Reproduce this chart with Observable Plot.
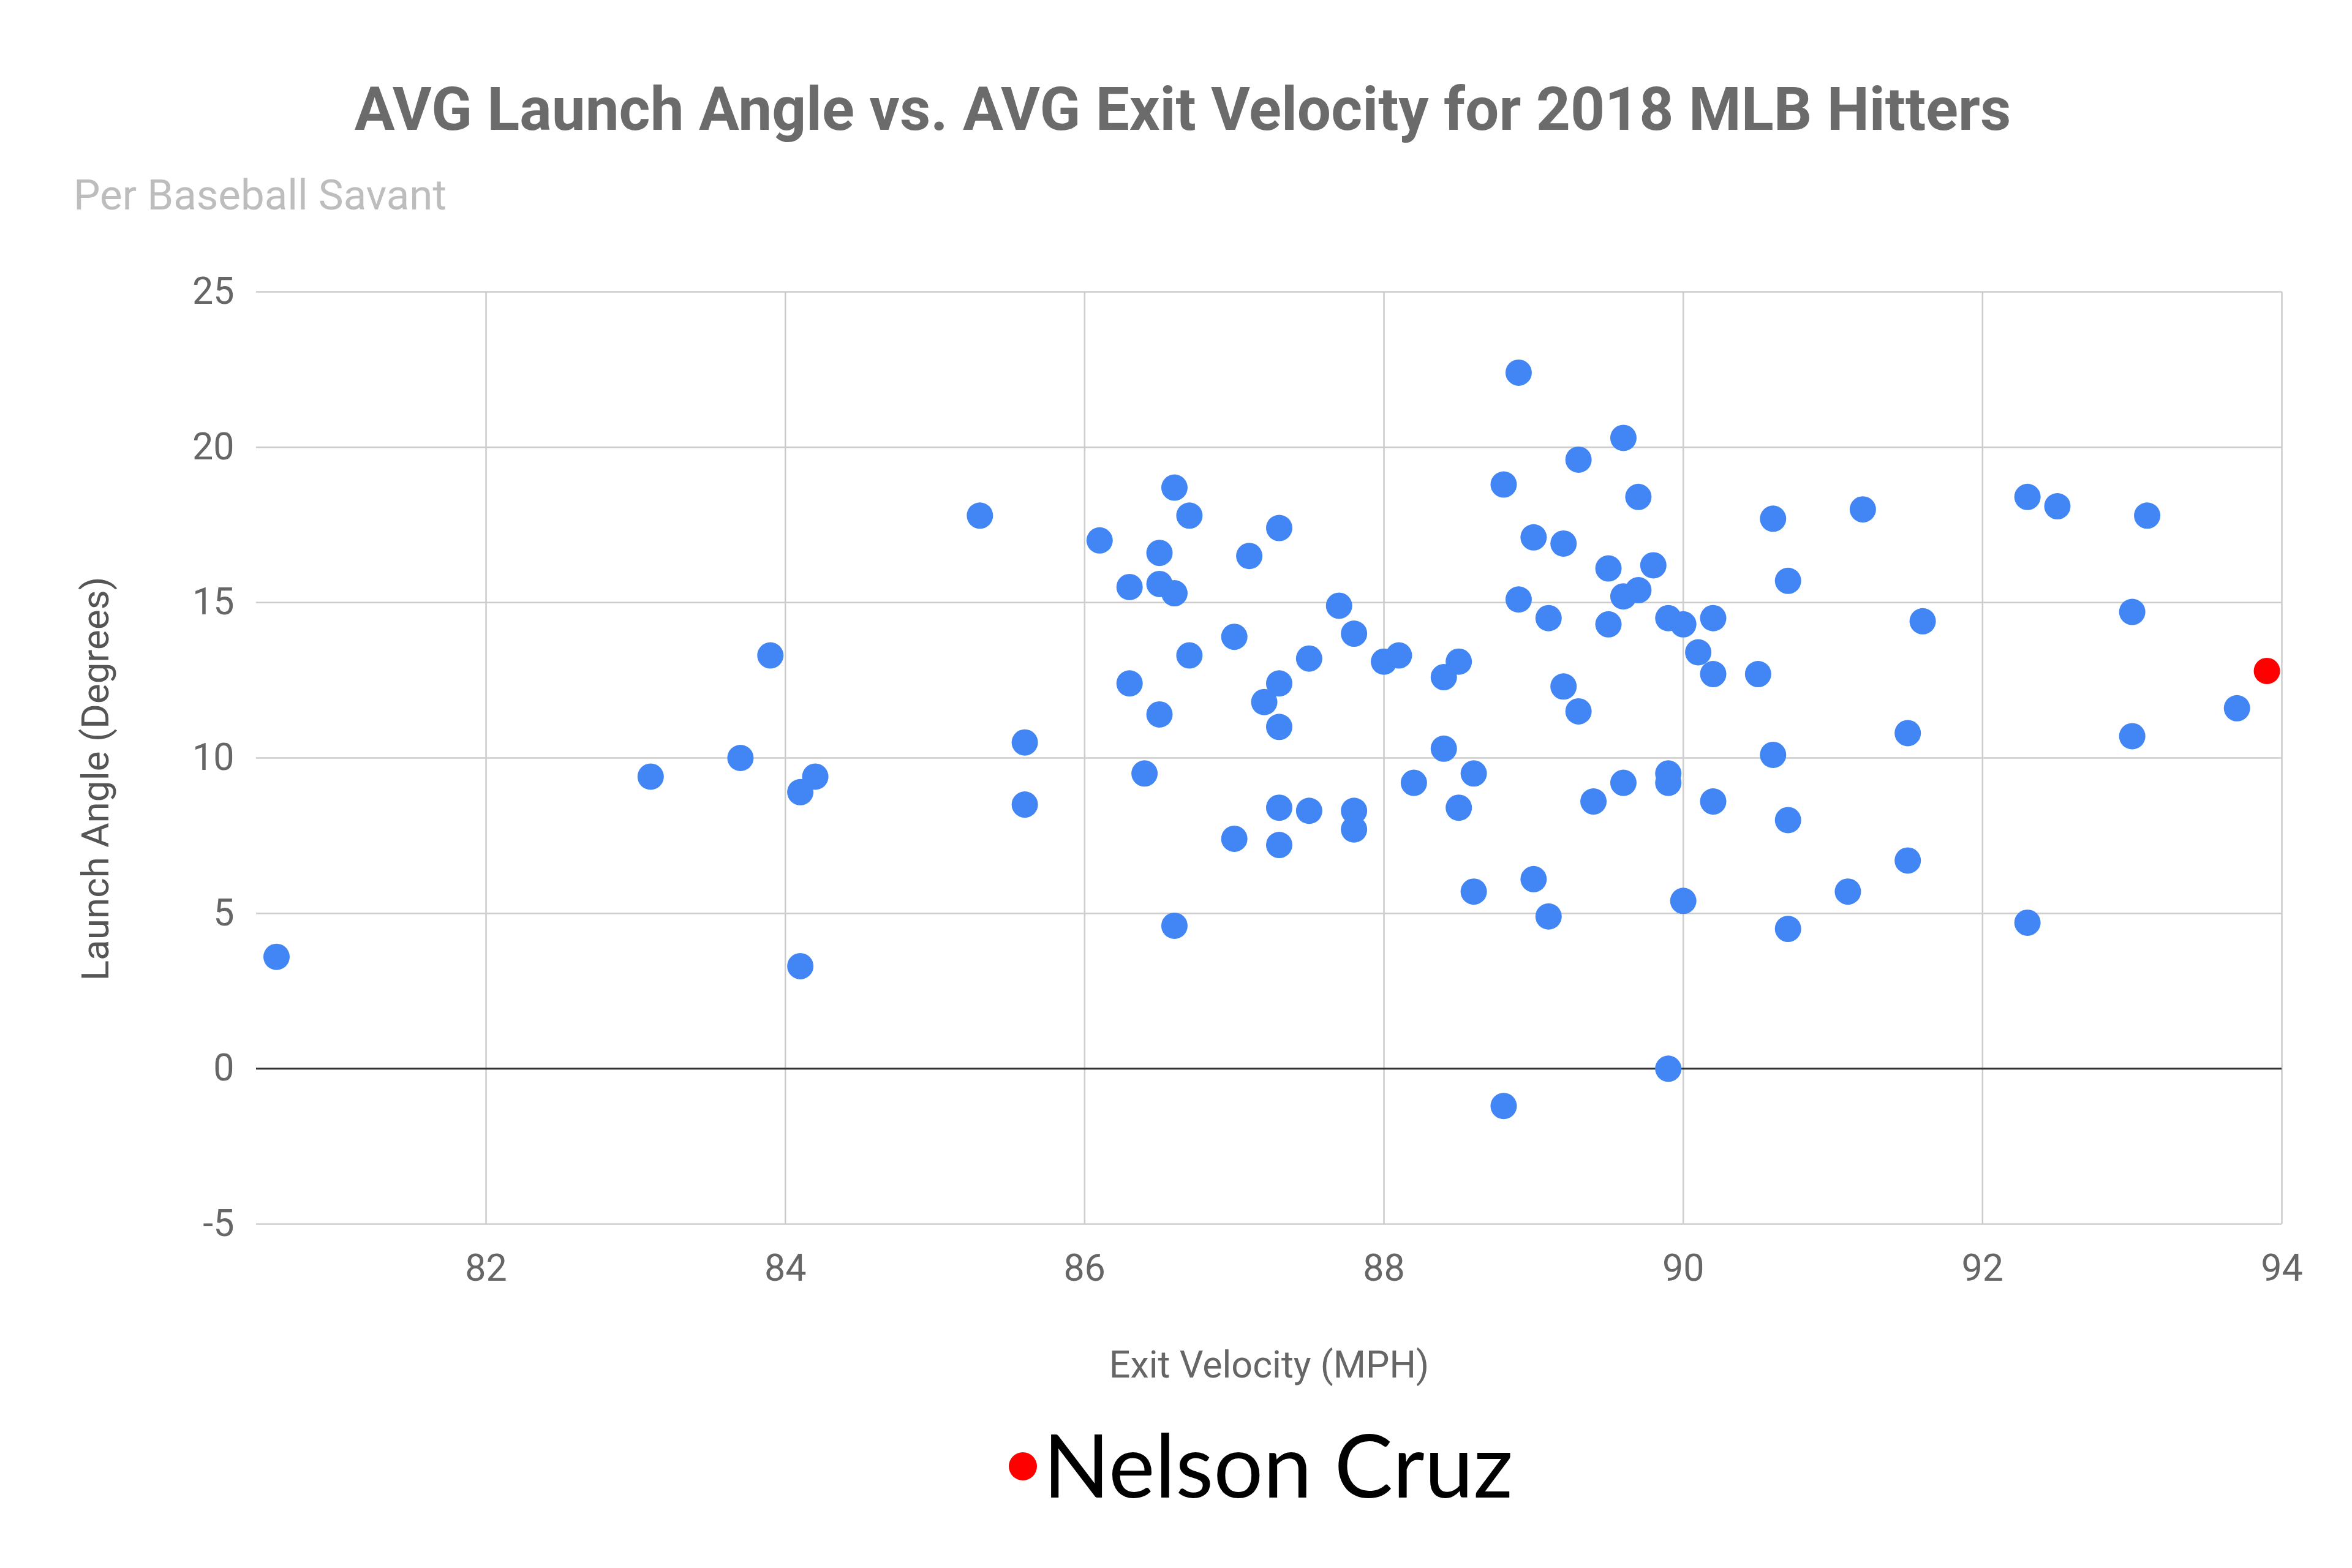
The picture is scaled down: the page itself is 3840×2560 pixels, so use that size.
<!DOCTYPE html>
<html>
<head>
<meta charset="utf-8">
<script src="https://cdn.jsdelivr.net/npm/d3@7"></script>
<script src="https://cdn.jsdelivr.net/npm/@observablehq/plot@0.6"></script>
<style>
  html, body { margin: 0; padding: 0; background: #ffffff; }
  #wrap { position: relative; width: 3840px; height: 2560px; overflow: hidden; background: #ffffff; }
  #chart { position: absolute; left: 0; top: 0; }
  .t { position: absolute; white-space: nowrap; line-height: 1; }
  #title { left: 1931px; top: 130px; transform: translateX(-50%); font-family: Roboto, sans-serif; font-weight: 700; font-size: 98px; color: #6b6b6b; }
  #subtitle { left: 120px; top: 284px; font-family: Roboto, sans-serif; font-size: 69px; color: #bdbdbd; }
  #legend { left: 1647px; top: 2318px; font-family: Lato, sans-serif; font-size: 143px; color: #000; display: flex; align-items: center; }
  #legend .dot { display: inline-block; width: 46px; height: 46px; border-radius: 50%; background: #ff0000; margin-right: 10px; margin-top: 8px; }
</style>
</head>
<body>
<div id="wrap">
  <div id="chart"></div>
  <div class="t" id="title"></div>
  <div class="t" id="subtitle"></div>
  <div class="t" id="legend"><span class="dot"></span><span id="legendText"></span></div>
</div>
<script>
// ---- Data ----
const titleText = "AVG Launch Angle vs. AVG Exit Velocity for 2018 MLB Hitters";
const subtitleText = "Per Baseball Savant";
const xLabel = "Exit Velocity (MPH)";
const yLabel = "Launch Angle (Degrees)";
const highlightName = "Nelson Cruz";

const exitVelocity = [
  80.6, 83.1, 83.7, 83.9, 84.1, 84.2, 84.1, 85.3, 85.6, 85.6,
  86.1, 86.3, 86.3, 86.4, 86.5, 86.5, 86.6, 86.6, 86.7, 86.5,
  86.7, 86.6, 87.0, 87.1, 87.3, 87.2, 87.3, 87.3, 87.0, 87.3,
  87.3, 87.5, 87.5, 87.7, 87.8, 87.8, 87.8, 88.0, 88.1, 88.2,
  88.4, 88.5, 88.4, 88.5, 88.6, 88.6, 88.8, 88.9, 88.9, 88.8,
  89.0, 89.1, 89.2, 89.3, 89.2, 89.3, 89.0, 89.1, 89.4, 89.5,
  89.5, 89.6, 89.6, 89.7, 89.7, 89.8, 89.6, 89.9, 90.0, 90.1,
  90.2, 90.2, 89.9, 89.9, 90.2, 90.0, 89.9, 90.5, 90.6, 90.7,
  90.6, 90.7, 90.7, 91.1, 91.2, 91.5, 91.6, 91.5, 92.3, 92.5,
  92.3, 93.0, 93.1, 93.0, 93.7
];
const launchAngle = [
  3.6, 9.4, 10.0, 13.3, 8.9, 9.4, 3.3, 17.8, 10.5, 8.5,
  17.0, 15.5, 12.4, 9.5, 16.6, 15.6, 15.3, 18.7, 17.8, 11.4,
  13.3, 4.6, 13.9, 16.5, 17.4, 11.8, 12.4, 11.0, 7.4, 8.4,
  7.2, 13.2, 8.3, 14.9, 14.0, 8.3, 7.7, 13.1, 13.3, 9.2,
  12.6, 13.1, 10.3, 8.4, 9.5, 5.7, 18.8, 22.4, 15.1, -1.2,
  17.1, 14.5, 16.9, 19.6, 12.3, 11.5, 6.1, 4.9, 8.6, 16.1,
  14.3, 20.3, 15.2, 18.4, 15.4, 16.2, 9.2, 14.5, 14.3, 13.4,
  12.7, 14.5, 9.5, 9.2, 8.6, 5.4, 0.0, 12.7, 17.7, 15.7,
  10.1, 8.0, 4.5, 5.7, 18.0, 10.8, 14.4, 6.7, 18.4, 18.1,
  4.7, 14.7, 17.8, 10.7, 11.6
];
const highlightExitVelocity = [93.9];
const highlightLaunchAngle = [12.8];

const xTicks = [82, 84, 86, 88, 90, 92, 94];
const yTicks = [-5, 0, 5, 10, 15, 20, 25];
const xDomain = [80.465, 94];
const yDomain = [-5, 25];

// ---- Build tables ----
const hitters = exitVelocity.map((ev, i) => ({ev, la: launchAngle[i]}));
const highlight = highlightExitVelocity.map((ev, i) => ({ev, la: highlightLaunchAngle[i], name: highlightName}));

document.getElementById("title").textContent = titleText;
document.getElementById("subtitle").textContent = subtitleText;
document.getElementById("legendText").textContent = highlightName;

const chart = Plot.plot({
  width: 3840,
  height: 2300,
  marginLeft: 418,
  marginRight: 115,
  marginTop: 476,
  marginBottom: 302,
  style: {fontFamily: "Roboto, sans-serif", fontSize: "61px", color: "#666666", background: "transparent", overflow: "visible"},
  x: {domain: xDomain, ticks: xTicks, tickSize: 0, tickPadding: 49, label: xLabel, labelArrow: "none", labelAnchor: "center", labelOffset: 250, tickFormat: d => String(d)},
  y: {domain: yDomain, ticks: yTicks, tickSize: 0, tickPadding: 36, label: null, tickFormat: d => String(d)},
  marks: [
    Plot.gridX(xTicks, {stroke: "#cccccc", strokeOpacity: 1, strokeWidth: 2.5}),
    Plot.gridY(yTicks, {stroke: "#cccccc", strokeOpacity: 1, strokeWidth: 2.5}),
    Plot.ruleY([0], {stroke: "#333333", strokeWidth: 3}),
    Plot.text([yLabel], {frameAnchor: "left", textAnchor: "middle", rotate: -90, dx: -261, dy: 34, fontSize: 62, fill: "#555555"}),
    Plot.dot(hitters, {x: "ev", y: "la", r: 21.5, fill: "#4285f4"}),
    Plot.dot(highlight, {x: "ev", y: "la", r: 21.5, fill: "#ff0000"})
  ]
});
document.getElementById("chart").appendChild(chart);
</script>
</body>
</html>
